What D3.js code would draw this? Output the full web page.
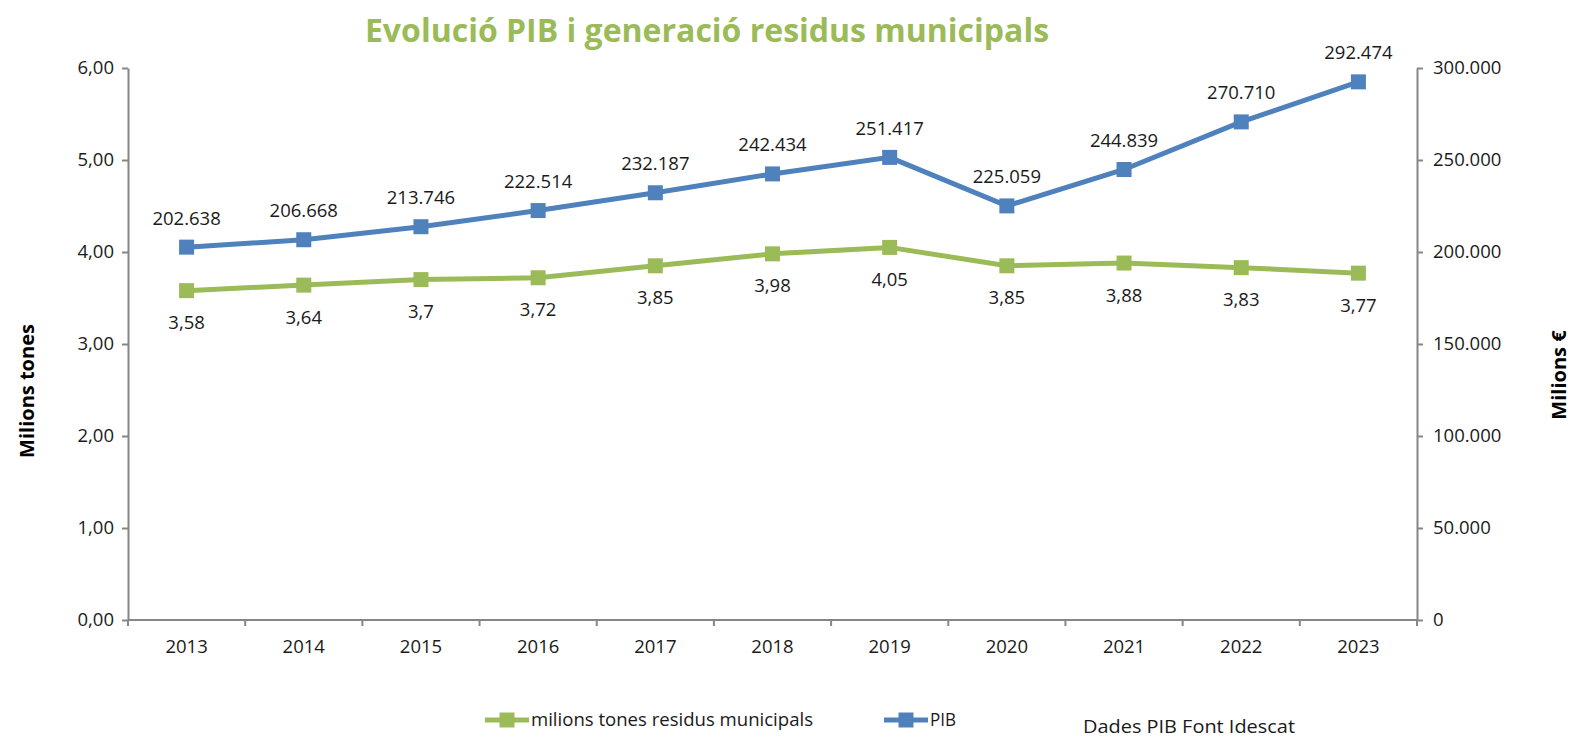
<!DOCTYPE html>
<html>
<head>
	<meta charset="utf-8">
	<title>Evolució PIB i generació residus municipals</title>
	<script src="https://d3js.org/d3.v7.min.js"></script>
	<style type="text/css">
		body { margin: 0; background: #fff; }
		text { font-family: "Open Sans", sans-serif; fill: #1a1a1a; }
		.axis path, .axis line { stroke: #868686; stroke-width: 2; }
		.axis text { font-size: 18.5px; fill: #1a1a1a; }
	</style>
</head>
<body>
<div id="chart"></div>
<script type="text/javascript">
	var years = [2013, 2014, 2015, 2016, 2017, 2018, 2019, 2020, 2021, 2022, 2023];
	var residus = [3.58, 3.64, 3.70, 3.72, 3.85, 3.98, 4.05, 3.85, 3.88, 3.83, 3.77];
	var pib = [202638, 206668, 213746, 222514, 232187, 242434, 251417, 225059, 244839, 270710, 292474];
	var leftTicks = [0, 1, 2, 3, 4, 5, 6];
	var rightTicks = [0, 50000, 100000, 150000, 200000, 250000, 300000];

	var width = 1573,
	    height = 739;
	var plotLeft = 128, plotRight = 1417, plotTop = 68, plotBottom = 620;
	var green = "#9bbb59", blue = "#4f81bd";

	var loc = d3.formatLocale({decimal: ",", thousands: ".", grouping: [3], currency: ["", "€"]});
	var fmtLeft = loc.format(",.2f"),
	    fmtRight = loc.format(",d"),
	    fmtRes = loc.format(".2~f");

	var svg = d3.select("#chart")
	    .append("svg")
	    .attr("width", width)
	    .attr("height", height);

	var xScale = d3.scaleBand()
	    .domain(years)
	    .range([plotLeft, plotRight])
	    .padding(0);

	var yLeft = d3.scaleLinear()
	    .domain([0, 6])
	    .range([plotBottom, plotTop]);

	var yRight = d3.scaleLinear()
	    .domain([0, 300000])
	    .range([plotBottom, plotTop]);

	// title
	svg.append("text")
	    .attr("x", 707)
	    .attr("y", 42)
	    .attr("text-anchor", "middle")
	    .style("font-size", "32px")
	    .style("font-weight", "bold")
	    .style("fill", green)
	    .text("Evolució PIB i generació residus municipals");

	// axes
	var gY = svg.append("g")
	    .attr("class", "axis")
	    .attr("transform", "translate(" + plotLeft + ",0)")
	    .call(d3.axisLeft(yLeft).tickValues(leftTicks).tickFormat(fmtLeft).tickSize(6).tickSizeOuter(0).tickPadding(8));

	var gY2 = svg.append("g")
	    .attr("class", "axis")
	    .attr("transform", "translate(" + plotRight + ",0)")
	    .call(d3.axisRight(yRight).tickValues(rightTicks).tickFormat(fmtRight).tickSize(6).tickSizeOuter(0).tickPadding(10));

	var gX = svg.append("g")
	    .attr("class", "axis")
	    .attr("transform", "translate(0," + plotBottom + ")")
	    .call(d3.axisBottom(xScale).tickSize(0).tickSizeOuter(0).tickPadding(20));
	gX.select(".domain").attr("d", "M" + plotLeft + ",0H" + plotRight);

	// ticks between categories
	var edges = years.map(d => xScale(d)).concat([plotRight]);
	gX.selectAll(".sep")
	    .data(edges)
	    .enter()
	    .append("line")
	    .attr("x1", d => d)
	    .attr("x2", d => d)
	    .attr("y1", 0)
	    .attr("y2", 6)
	    .attr("stroke", "#868686")
	    .attr("stroke-width", 2);

	var cx = d => xScale(d) + xScale.bandwidth() / 2;

	// axis titles
	svg.append("text")
	    .attr("transform", "translate(34,391) rotate(-90)")
	    .attr("text-anchor", "middle")
	    .style("font-size", "20px")
	    .style("font-weight", "bold")
	    .style("fill", "#000")
	    .text("Milions tones");

	svg.append("text")
	    .attr("transform", "translate(1566,375) rotate(-90)")
	    .attr("text-anchor", "middle")
	    .style("font-size", "20px")
	    .style("font-weight", "bold")
	    .style("fill", "#000")
	    .text("Milions €");

	// lines
	var lineRes = d3.line()
	    .x((d, i) => cx(years[i]))
	    .y(d => yLeft(d));
	var linePib = d3.line()
	    .x((d, i) => cx(years[i]))
	    .y(d => yRight(d));

	svg.append("path")
	    .datum(residus)
	    .attr("d", lineRes)
	    .attr("fill", "none")
	    .attr("stroke", green)
	    .attr("stroke-width", 5);

	svg.append("path")
	    .datum(pib)
	    .attr("d", linePib)
	    .attr("fill", "none")
	    .attr("stroke", blue)
	    .attr("stroke-width", 5);

	var ms = 15;
	svg.selectAll(".mres")
	    .data(residus)
	    .enter()
	    .append("rect")
	    .attr("x", (d, i) => cx(years[i]) - ms / 2)
	    .attr("y", d => yLeft(d) - ms / 2)
	    .attr("width", ms)
	    .attr("height", ms)
	    .attr("fill", green);

	svg.selectAll(".mpib")
	    .data(pib)
	    .enter()
	    .append("rect")
	    .attr("x", (d, i) => cx(years[i]) - ms / 2)
	    .attr("y", d => yRight(d) - ms / 2)
	    .attr("width", ms)
	    .attr("height", ms)
	    .attr("fill", blue);

	// data labels
	svg.selectAll(".lres")
	    .data(residus)
	    .enter()
	    .append("text")
	    .attr("x", (d, i) => cx(years[i]))
	    .attr("y", d => yLeft(d) + 32)
	    .attr("dy", "0.35em")
	    .attr("text-anchor", "middle")
	    .style("font-size", "18.5px")
	    .text(d => fmtRes(d));

	svg.selectAll(".lpib")
	    .data(pib)
	    .enter()
	    .append("text")
	    .attr("x", (d, i) => cx(years[i]))
	    .attr("y", d => yRight(d) - 29)
	    .attr("dy", "0.35em")
	    .attr("text-anchor", "middle")
	    .style("font-size", "18.5px")
	    .text(d => fmtRight(d));

	// legend
	var legend = [
	    {name: "milions tones residus municipals", color: green, x: 485, w: 282},
	    {name: "PIB", color: blue, x: 884, w: 26}
	];
	var lg = svg.selectAll(".legend")
	    .data(legend)
	    .enter()
	    .append("g")
	    .attr("transform", d => "translate(" + d.x + ",720)");
	lg.append("line")
	    .attr("x1", 0).attr("x2", 44)
	    .attr("y1", 0).attr("y2", 0)
	    .attr("stroke", d => d.color)
	    .attr("stroke-width", 5);
	lg.append("rect")
	    .attr("x", 22 - 7.5).attr("y", -7.5)
	    .attr("width", 15).attr("height", 15)
	    .attr("fill", d => d.color);
	lg.append("text")
	    .attr("x", 46)
	    .attr("dy", "0.35em")
	    .attr("textLength", d => d.w)
	    .attr("lengthAdjust", "spacingAndGlyphs")
	    .style("font-size", "18px")
	    .text(d => d.name);

	svg.append("text")
	    .attr("x", 1083)
	    .attr("y", 727)
	    .attr("dy", "0.35em")
	    .attr("textLength", 212)
	    .attr("lengthAdjust", "spacingAndGlyphs")
	    .style("font-size", "18px")
	    .text("Dades PIB Font Idescat");
</script>
</body>
</html>
